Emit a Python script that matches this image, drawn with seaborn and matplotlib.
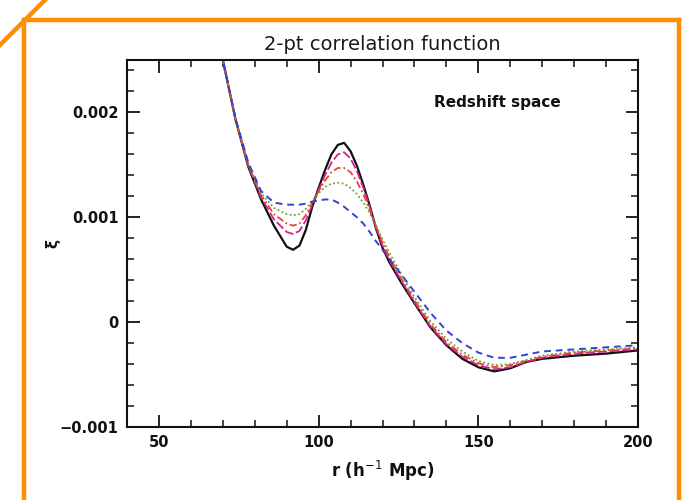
import matplotlib
matplotlib.use("Agg")
import numpy as np
import pandas as pd
import matplotlib.pyplot as plt
import seaborn as sns
from matplotlib.ticker import MultipleLocator, FixedLocator, FixedFormatter
from matplotlib.lines import Line2D

# ---------------- data ----------------
r = [66, 70, 74, 78, 82, 86, 90, 92, 94, 96, 98, 100, 102, 104, 106, 108,
     110, 112, 114, 116, 118, 120, 122, 126, 130, 135, 140, 145, 150, 155,
     160, 165, 170, 180, 190, 200]

xi_black = [0.00300, 0.00250, 0.00193, 0.00148, 0.00117, 0.00092, 0.00072, 0.00069,
            0.00073, 0.00088, 0.00110, 0.00128, 0.00145, 0.00160, 0.00169, 0.00171,
            0.00163, 0.00149, 0.00131, 0.00111, 0.00089, 0.00071, 0.00058, 0.00037,
            0.00018, -0.00005, -0.00022, -0.00035, -0.00043, -0.00047, -0.00044,
            -0.00038, -0.00035, -0.00032, -0.00030, -0.00027]
xi_magenta = [0.00300, 0.00250, 0.00193, 0.00149, 0.00119, 0.00098, 0.00086, 0.00084,
              0.00087, 0.00097, 0.00112, 0.00126, 0.00140, 0.00152, 0.00160, 0.00162,
              0.00156, 0.00144, 0.00128, 0.00110, 0.00090, 0.00073, 0.00060, 0.00039,
              0.00019, -0.00004, -0.00021, -0.00033, -0.00041, -0.00045, -0.00043,
              -0.00038, -0.00034, -0.00030, -0.00028, -0.00026]
xi_red = [0.00300, 0.00250, 0.00193, 0.00150, 0.00121, 0.00103, 0.00094, 0.00092,
          0.00094, 0.00102, 0.00114, 0.00125, 0.00135, 0.00143, 0.00147, 0.00147,
          0.00143, 0.00134, 0.00122, 0.00107, 0.00091, 0.00076, 0.00063, 0.00041,
          0.00021, -0.00002, -0.00019, -0.00031, -0.00039, -0.00043, -0.00041,
          -0.00037, -0.00033, -0.00029, -0.00027, -0.00025]
xi_green = [0.00300, 0.00250, 0.00193, 0.00151, 0.00123, 0.00109, 0.00103, 0.00102,
            0.00103, 0.00108, 0.00116, 0.00123, 0.00129, 0.00132, 0.00133, 0.00132,
            0.00128, 0.00122, 0.00114, 0.00104, 0.00092, 0.00079, 0.00067, 0.00045,
            0.00024, 0.00001, -0.00016, -0.00028, -0.00037, -0.00041, -0.00040,
            -0.00036, -0.00032, -0.00028, -0.00026, -0.00024]
xi_blue = [0.00300, 0.00250, 0.00194, 0.00152, 0.00125, 0.00114, 0.00112, 0.00112,
           0.00112, 0.00113, 0.00115, 0.00116, 0.00117, 0.00117, 0.00114, 0.00110,
           0.00105, 0.00100, 0.00094, 0.00086, 0.00077, 0.00069, 0.00061, 0.00045,
           0.00029, 0.00009, -0.00008, -0.00020, -0.00029, -0.00034, -0.00034,
           -0.00031, -0.00028, -0.00026, -0.00024, -0.00022]

series_names = ["black", "magenta", "red", "green", "blue"]
series_values = [xi_black, xi_magenta, xi_red, xi_green, xi_blue]

y_ticks = [-0.001, 0.0, 0.001, 0.002]
y_tick_labels = ["\u22120.001", "0", "0.001", "0.002"]
x_ticks = [50, 100, 150, 200]
x_tick_labels = ["50", "100", "150", "200"]

# ---------------- styles ----------------
palette = {"black": "#111111", "magenta": "#d81f8f", "red": "#e8442e",
           "green": "#6f9d3a", "blue": "#3342d0"}
dashes = {"black": "", "magenta": (5, 1.6), "red": (4, 1.6, 1, 1.6),
          "green": (1, 1.4), "blue": (3.5, 2.5)}
widths = [1.6, 1.3, 1.3, 1.3, 1.4]

df = pd.concat([pd.DataFrame({"r": r, "xi": v, "model": n})
                for n, v in zip(series_names, series_values)], ignore_index=True)

sns.set_style("ticks")
plt.rcParams["font.family"] = ["DejaVu Sans"]
plt.rcParams["text.color"] = "#111111"
plt.rcParams["axes.labelcolor"] = "#111111"
plt.rcParams["xtick.color"] = "#111111"
plt.rcParams["ytick.color"] = "#111111"

fig = plt.figure(figsize=(6.84, 5.0), dpi=100)
ax = fig.add_axes([127 / 684, 1 - 427 / 500, (638 - 127) / 684, (427 - 60) / 500])

sns.lineplot(data=df, x="r", y="xi", hue="model", style="model",
             hue_order=series_names, style_order=series_names,
             palette=palette, dashes=dashes, sort=False, legend=False, ax=ax)
for ln, w in zip(ax.lines, widths):
    ln.set_linewidth(w)

ax.set_xlim(40, 200)
ax.set_ylim(-0.001, 0.0025)

ax.xaxis.set_major_locator(FixedLocator(x_ticks))
ax.xaxis.set_major_formatter(FixedFormatter(x_tick_labels))
ax.xaxis.set_minor_locator(MultipleLocator(10))
ax.yaxis.set_major_locator(FixedLocator(y_ticks))
ax.yaxis.set_major_formatter(FixedFormatter(y_tick_labels))
ax.yaxis.set_minor_locator(MultipleLocator(0.0002))

ax.tick_params(which="both", direction="in", top=True, right=True, color="#111111",
               labelcolor="#111111")
ax.tick_params(which="major", length=9, width=1.3, labelsize=10.5, pad=6)
ax.tick_params(which="minor", length=5, width=1.1)
for lab in ax.get_xticklabels() + ax.get_yticklabels():
    lab.set_fontweight("bold")
for s in ax.spines.values():
    s.set_linewidth(1.5)
    s.set_color("#111111")

ax.set_title("2-pt correlation function", fontsize=14, pad=7, color="#1a1a1a")
ax.set_xlabel("r (h$^{-1}$ Mpc)", fontsize=12, fontweight="bold")
ax.set_ylabel("\u03be", fontsize=11, fontweight="bold")
ax.xaxis.set_label_coords(0.5, (427 - 459) / 367)
ax.yaxis.set_label_coords((60 - 127) / 511, 0.5)

ax.text(0.725, 0.883, "Redshift space", transform=ax.transAxes, fontsize=11,
        fontweight="bold", ha="center", va="center")

# orange highlight frame around the screenshot
orange = "#ff8f00"
def fig_line(x0, y0, x1, y1):
    fig.add_artist(Line2D([x0 / 684, x1 / 684], [1 - y0 / 500, 1 - y1 / 500],
                          transform=fig.transFigure, color=orange, lw=3.2,
                          solid_capstyle="projecting"))
fig_line(24, 20, 24, 502)
fig_line(24, 20, 679, 20)
fig_line(679, 20, 679, 502)
fig_line(0, 45, 47, -2)

fig.savefig("out.png", dpi=100)
